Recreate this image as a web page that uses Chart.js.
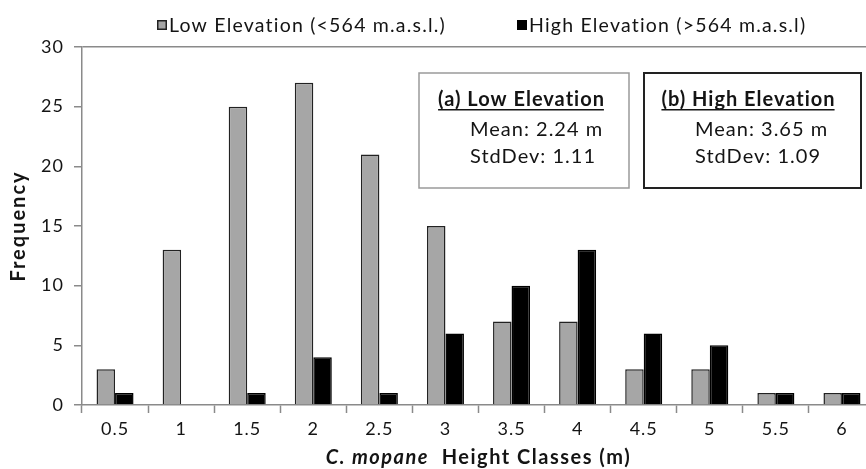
<!DOCTYPE html>
<html><head><meta charset="utf-8">
<script src="https://cdn.jsdelivr.net/npm/chart.js@4/dist/chart.umd.min.js"></script>
<style>
html,body{margin:0;padding:0;background:#fff;overflow:hidden;width:866px;height:469px}
#wrap{position:relative;width:890px;height:469px}
</style></head>
<body><div id="wrap"><canvas id="c"></canvas></div>
<script>
const heightClasses = ['0.5','1','1.5','2','2.5','3','3.5','4','4.5','5','5.5','6'];
const lowElevation  = [3,13,25,27,21,15,7,7,3,3,1,1];
const highElevation = [1,0,1,4,1,6,10,13,6,5,1,1];
const seriesLabels  = ['Low Elevation (<564 m.a.s.l.)','High Elevation (>564 m.a.s.l)'];
const statTitles = ['(a) Low Elevation','(b) High Elevation'];
const statMeans  = ['Mean: 2.24 m','Mean: 3.65 m'];
const statSDs    = ['StdDev: 1.11','StdDev: 1.09'];
const yTitle = 'Frequency';
const xTitleItalic = 'C. mopane';
const xTitleRest = '  Height Classes (m)';
const yMax = 30, yStep = 5;

const FONT = 'Lato, "Open Sans", sans-serif';
const TXT = '#141414';
const AXIS = '#8a8a8a';

const spacing = {
  id: 'spacing',
  beforeLayout(chart) { chart.ctx.letterSpacing = '1px'; },
  beforeDraw(chart) { chart.ctx.letterSpacing = '1px'; }
};

const decor = {
  id: 'decor',
  afterDraw(chart) {
    const ctx = chart.ctx, ca = chart.chartArea;
    ctx.save();
    // legend
    const legendX = [157, 517];
    const ly = 25;
    ctx.letterSpacing = '1.2px';
    ctx.font = '19.5px ' + FONT;
    ctx.textBaseline = 'middle';
    ctx.textAlign = 'left';
    chart.data.datasets.forEach((ds, i) => {
      const x = legendX[i];
      ctx.fillStyle = ds.backgroundColor;
      ctx.fillRect(x, ly - 5, 10, 10);
      ctx.strokeStyle = ds.borderColor;
      ctx.lineWidth = 1.5;
      ctx.strokeRect(x + 0.75, ly - 4.25, 8.5, 8.5);
      ctx.fillStyle = TXT;
      ctx.fillText(ds.label, x + 12, ly + 1);
    });
    // stat boxes
    const boxes = [
      {x: 419, y: 73, w: 210, h: 115, stroke: '#9a9a9a', lw: 1.5, tx: 521, lx: 470},
      {x: 644, y: 73, w: 217, h: 115, stroke: '#222', lw: 2, tx: 748, lx: 695}
    ];
    ctx.letterSpacing = '1px';
    boxes.forEach((b, i) => {
      ctx.strokeStyle = b.stroke;
      ctx.lineWidth = b.lw;
      ctx.strokeRect(b.x, b.y, b.w, b.h);
      ctx.fillStyle = TXT;
      ctx.font = 'bold 20px ' + FONT;
      ctx.textAlign = 'left';
      ctx.textBaseline = 'alphabetic';
      const tw = ctx.measureText(statTitles[i]).width - 1;
      ctx.fillText(statTitles[i], b.tx - tw / 2, 106);
      ctx.fillRect(b.tx - tw / 2, 109, tw, 1.5);
      ctx.font = '20px ' + FONT;
      ctx.fillText(statMeans[i], b.lx, 136);
      ctx.fillText(statSDs[i], b.lx, 163);
    });
    // x axis title (mixed italic)
    ctx.letterSpacing = '1.5px';
    ctx.font = 'italic bold 20px ' + FONT;
    const w1 = ctx.measureText(xTitleItalic).width;
    ctx.font = 'bold 20px ' + FONT;
    const w2 = ctx.measureText(xTitleRest).width;
    const cx = (ca.left + ca.right) / 2;
    const sx = cx - (w1 + w2) / 2;
    ctx.textAlign = 'left';
    ctx.textBaseline = 'middle';
    ctx.fillStyle = TXT;
    ctx.font = 'italic bold 20px ' + FONT;
    ctx.fillText(xTitleItalic, sx, 458);
    ctx.font = 'bold 20px ' + FONT;
    ctx.fillText(xTitleRest, sx + w1, 458);
    // y axis title
    ctx.letterSpacing = '2px';
    ctx.font = 'bold 20px ' + FONT;
    const wy = ctx.measureText(yTitle).width;
    ctx.translate(19, (ca.top + ca.bottom) / 2);
    ctx.rotate(-Math.PI / 2);
    ctx.textAlign = 'left';
    ctx.fillText(yTitle, -wy / 2, 0);
    ctx.restore();
  }
};

new Chart(document.getElementById('c'), {
  type: 'bar',
  data: {
    labels: heightClasses,
    datasets: [
      {label: seriesLabels[0], data: lowElevation, backgroundColor: '#a6a6a6', borderColor: '#222222', borderWidth: 1.5},
      {label: seriesLabels[1], data: highElevation, backgroundColor: '#000000', borderColor: '#000000', borderWidth: 1.5}
    ]
  },
  options: {
    responsive: true,
    maintainAspectRatio: false,
    animation: false,
    devicePixelRatio: 1,
    layout: {padding: {top: 47, right: 15, left: 0, bottom: 0}},
    datasets: {bar: {categoryPercentage: 0.56, barPercentage: 1}},
    plugins: {legend: {display: false}, tooltip: {enabled: false}},
    scales: {
      x: {
        grid: {display: true, drawOnChartArea: false, tickLength: 8, tickColor: AXIS, tickWidth: 1.5, offset: true},
        border: {display: true, color: AXIS, width: 1.5},
        ticks: {color: TXT, font: {family: FONT, size: 18}, padding: 5, maxRotation: 0},
        afterFit(s) { s.height = 64; }
      },
      y: {
        min: 0, max: yMax,
        grid: {drawOnChartArea: true, tickLength: 8, tickColor: AXIS, tickWidth: 1.5,
               color: c => (c.tick && c.tick.value === yMax) ? AXIS : 'rgba(0,0,0,0)', lineWidth: 1.5},
        border: {display: true, color: AXIS, width: 1.5},
        ticks: {stepSize: yStep, color: TXT, font: {family: FONT, size: 18}, padding: 10},
        title: {display: false},
        afterFit(s) { s.width = 82; }
      }
    }
  },
  plugins: [spacing, decor]
});
</script>
</body></html>
